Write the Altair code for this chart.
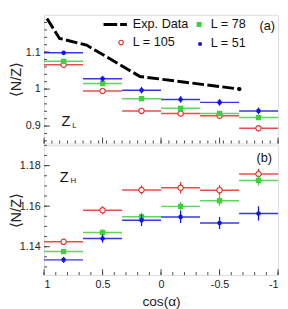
import altair as alt
import pandas as pd
import numpy as np

# ---------------- data ----------------
bin_lo = [1.0, 0.667, 0.333, 0.0, -0.333, -0.667]
bin_hi = [0.667, 0.333, 0.0, -0.333, -0.667, -1.0]
bin_mid = [0.833, 0.5, 0.167, -0.167, -0.5, -0.833]

series = ["L = 105", "L = 78", "L = 51"]
colors = {"L = 105": "#e3302c", "L = 78": "#3fcf3f", "L = 51": "#1414e0"}

# Z_L panel (a)
zl_105 = [1.066, 0.995, 0.941, 0.934, 0.928, 0.894]
zl_78 = [1.075, 1.015, 0.974, 0.948, 0.934, 0.923]
zl_51 = [1.098, 1.028, 0.997, 0.972, 0.964, 0.941]
zl_105_err = [0.004, 0.005, 0.007, 0.008, 0.008, 0.008]
zl_78_err = [0.004, 0.006, 0.006, 0.006, 0.007, 0.007]
zl_51_err = [0.004, 0.008, 0.009, 0.009, 0.009, 0.009]

# Z_H panel (b)
zh_105 = [1.1424, 1.1580, 1.1680, 1.1691, 1.1679, 1.1759]
zh_78 = [1.1376, 1.1470, 1.1548, 1.1599, 1.1627, 1.1727]
zh_51 = [1.1335, 1.1440, 1.1530, 1.1547, 1.1517, 1.1564]
zh_105_err = [0.0012, 0.0020, 0.0022, 0.0028, 0.0025, 0.0025]
zh_78_err = [0.0012, 0.0015, 0.0020, 0.0022, 0.0025, 0.0025]
zh_51_err = [0.0015, 0.0020, 0.0028, 0.0030, 0.0030, 0.0035]

# experimental data (Z_L)
exp_cos = [0.975, 0.868, 0.637, 0.18, -0.67]
exp_nz = [1.191, 1.137, 1.119, 1.034, 1.000]

legend_labels = ["Exp. Data", "L = 78", "L = 105", "L = 51"]

x_major = [1.0, 0.5, 0.0, -0.5, -1.0]
zl_major = [0.9, 1.0, 1.1]
zh_major = [1.14, 1.16, 1.18]

FONT = "Liberation Sans"
W = 240
H_TOP = 132
H_BOT = 133

xscale = alt.Scale(domain=[-1, 1], reverse=True, nice=False, zero=False)


def make_yaxis(y_major):
    return alt.Axis(values=y_major, labelExpr="toString(datum.value)", ticks=False,
                    domain=False, grid=False, labelPadding=4, labelFontSize=11,
                    labelFont=FONT, labelColor="#222", title="⟨N/Z⟩", titleFont=FONT,
                    titleFontSize=15, titleFontWeight="normal", titleColor="#222",
                    titleX=-21)


def make_xaxis(show):
    if show:
        return alt.Axis(values=x_major, labelExpr="toString(datum.value)", ticks=False,
                        domain=False, grid=False, labelPadding=4, labelFontSize=11,
                        labelFont=FONT, labelColor="#222", title="cos(α)",
                        titleFont=FONT, titleFontSize=14, titleFontWeight="normal",
                        titleColor="#222", titlePadding=5)
    return alt.Axis(values=x_major, ticks=False, domain=False, grid=False, labels=False,
                    title=None)


def panel(values, errors, yscale, height, y_major, y_minor, x_minor, show_x):
    layers = []
    yaxis = make_yaxis(y_major)
    xaxis = make_xaxis(show_x)

    def X(f):
        return alt.X(f, scale=xscale, axis=xaxis, title="cos(α)" if show_x else None)

    def Y(f):
        return alt.Y(f, scale=yscale, axis=yaxis, title="⟨N/Z⟩")

    # inner ticks
    for vals, ln in ((y_major, 6), (y_minor, 3)):
        layers.append(alt.Chart(pd.DataFrame({"v": vals})).mark_rule(
            color="#444", strokeWidth=1).encode(
            y=Y("v:Q"), x=alt.value(0), x2=alt.value(ln)))
    for vals, ln in ((x_major, 6), (x_minor, 3)):
        layers.append(alt.Chart(pd.DataFrame({"c": vals})).mark_rule(
            color="#444", strokeWidth=1).encode(
            x=X("c:Q"), y=alt.value(height), y2=alt.value(height - ln)))

    for s in series:
        df = pd.DataFrame({"lo": bin_lo, "hi": bin_hi, "c": bin_mid,
                           "v": values[s], "e": errors[s]})
        df["v1"] = df["v"] - df["e"]
        df["v2"] = df["v"] + df["e"]
        col = colors[s]
        layers.append(alt.Chart(df).mark_rule(color=col, strokeWidth=1.5, opacity=0.85).encode(
            x=X("lo:Q"), x2="hi:Q", y=Y("v:Q")))
        layers.append(alt.Chart(df).mark_rule(color=col, strokeWidth=1.3).encode(
            x=X("c:Q"), y=Y("v1:Q"), y2="v2:Q"))
        if s == "L = 105":
            m = alt.Chart(df).mark_point(shape="circle", size=30, fill="white", fillOpacity=1,
                                         stroke=col, strokeWidth=1.2, opacity=1)
        elif s == "L = 78":
            m = alt.Chart(df).mark_square(size=30, color=col, opacity=1)
        else:
            m = alt.Chart(df).mark_circle(size=22, color=col, opacity=1)
        layers.append(m.encode(x=X("c:Q"), y=Y("v:Q")))
    return layers, X, Y


def txt(text, x, y, size, align="left"):
    return alt.Chart(pd.DataFrame({"t": [text]})).mark_text(
        font=FONT, fontSize=size, align=align, baseline="middle", color="#111").encode(
        x=alt.value(x), y=alt.value(y), text="t:N")


# ---------------- top panel ----------------
yscale_top = alt.Scale(domain=[0.853, 1.201], nice=False, zero=False)
top_layers, Xt, Yt = panel(dict(zip(series, [zl_105, zl_78, zl_51])),
                           dict(zip(series, [zl_105_err, zl_78_err, zl_51_err])),
                           yscale_top, H_TOP, zl_major,
                           [round(v, 3) for v in np.arange(0.86, 1.2, 0.02)],
                           [round(v, 4) for v in np.linspace(-1, 1, 31)], False)

exp_df = pd.DataFrame({"c": exp_cos, "v": exp_nz})
top_layers.append(alt.Chart(exp_df).mark_line(color="black", strokeWidth=3,
                                              strokeDash=[12, 3.5]).encode(
    x=Xt("c:Q"), y=Yt("v:Q")))
top_layers.append(alt.Chart(exp_df.tail(1)).mark_circle(color="black", size=18, opacity=1).encode(
    x=Xt("c:Q"), y=Yt("v:Q")))

# legend (manual, ROOT style)
one = pd.DataFrame({"a": [0]})
top_layers.append(alt.Chart(one).mark_rule(color="black", strokeWidth=3,
                                           strokeDash=[14, 3, 7, 3]).encode(
    x=alt.value(61), x2=alt.value(86), y=alt.value(10)))
top_layers.append(txt(legend_labels[0], 91, 10, 13))
top_layers.append(alt.Chart(one).mark_square(size=26, color=colors["L = 78"], opacity=1).encode(
    x=alt.value(159), y=alt.value(10)))
top_layers.append(txt(legend_labels[1], 171, 10, 13))
top_layers.append(alt.Chart(one).mark_point(shape="circle", size=22, fill="white", fillOpacity=1,
                                            stroke=colors["L = 105"], strokeWidth=1.2,
                                            opacity=1).encode(
    x=alt.value(79), y=alt.value(28.5)))
top_layers.append(txt(legend_labels[2], 91, 28.5, 13))
top_layers.append(alt.Chart(one).mark_circle(size=18, color=colors["L = 51"], opacity=1).encode(
    x=alt.value(160), y=alt.value(30)))
top_layers.append(txt(legend_labels[3], 171, 29, 13))
top_layers.append(txt("(a)", 221, 11.7, 13))
top_layers.append(txt("Z", 18, 109.5, 15))
top_layers.append(txt("L", 29, 114, 8))

top = alt.layer(*top_layers).properties(width=W, height=H_TOP)

# ---------------- bottom panel ----------------
yscale_bot = alt.Scale(domain=[1.126, 1.190], nice=False, zero=False)
bot_layers, Xb, Yb = panel(dict(zip(series, [zh_105, zh_78, zh_51])),
                           dict(zip(series, [zh_105_err, zh_78_err, zh_51_err])),
                           yscale_bot, H_BOT, zh_major,
                           [round(v, 4) for v in np.arange(1.13, 1.19, 0.005)],
                           [round(v, 2) for v in np.arange(-1, 1.0001, 0.1)], True)
bot_layers.append(txt("(b)", 218, 12.7, 13))
bot_layers.append(txt("Z", 16, 32.3, 15))
bot_layers.append(txt("H", 27, 36.7, 8))

bottom = alt.layer(*bot_layers).properties(width=W, height=H_BOT)

chart = alt.vconcat(top, bottom, spacing=0).properties(
    padding={"left": 0, "top": 0, "right": 0, "bottom": 0}
).configure_view(stroke="#7a7a7a", strokeWidth=1).configure(background="white")

chart.save("out.html", embed_options={"renderer": "svg", "actions": False})
